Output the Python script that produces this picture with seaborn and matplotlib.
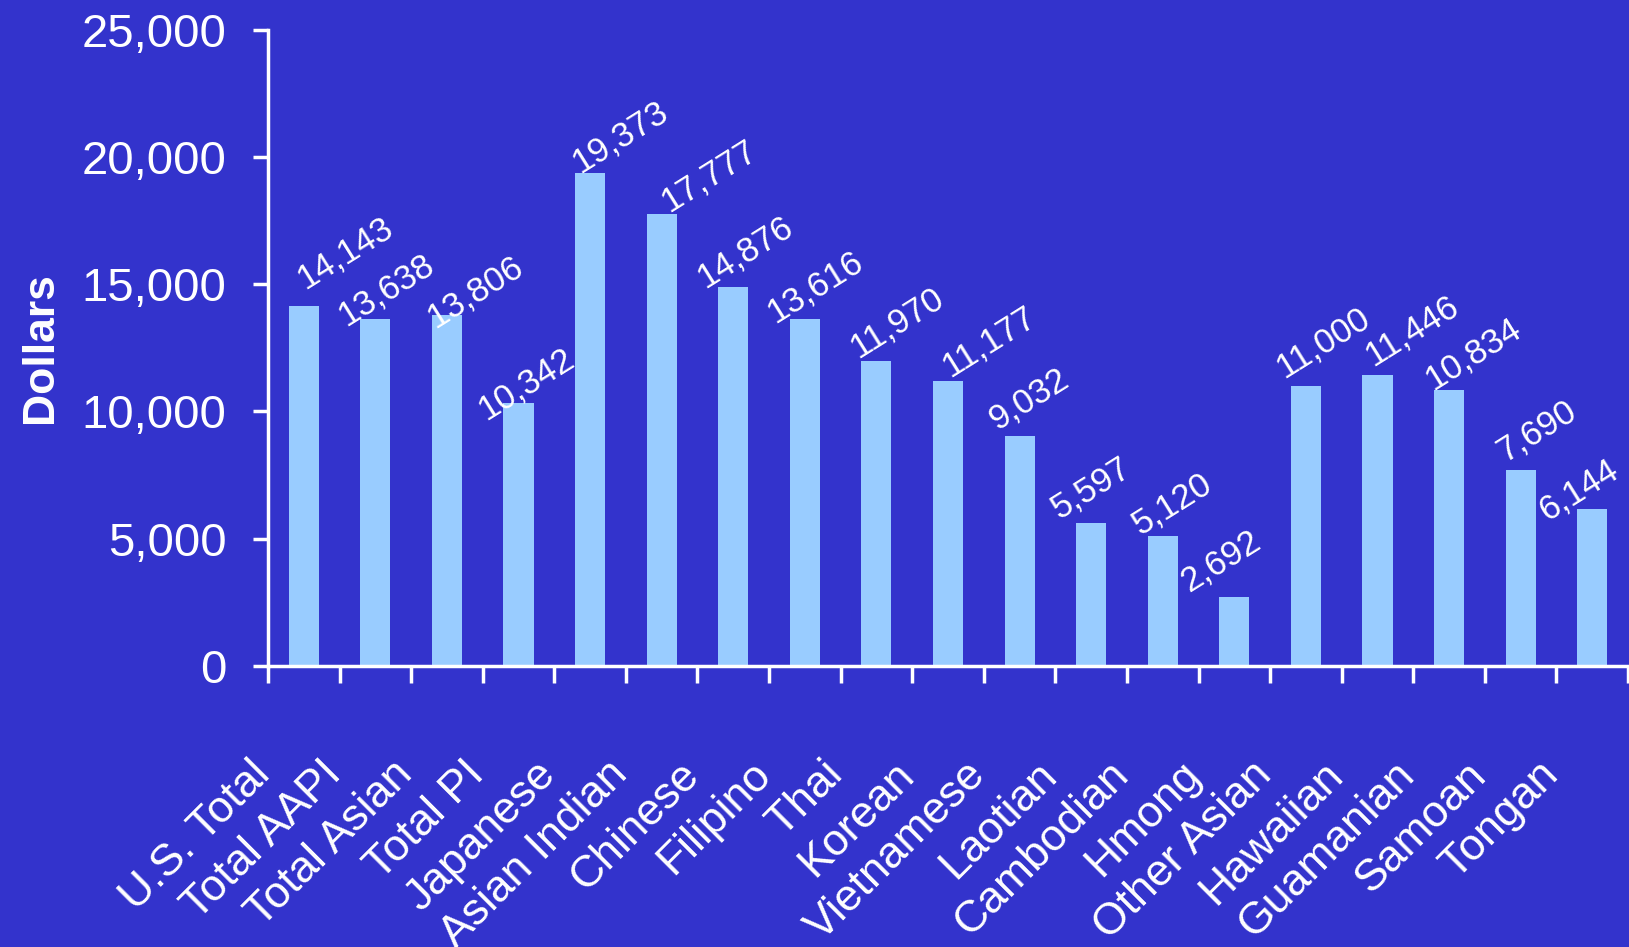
import numpy as np
import pandas as pd
import matplotlib
matplotlib.use("Agg")
import matplotlib.pyplot as plt
import seaborn as sns
from matplotlib.ticker import FuncFormatter, FixedLocator
from matplotlib.transforms import ScaledTranslation

# ---- data ----
categories = ["U.S. Total", "Total AAPI", "Total Asian", "Total PI", "Japanese",
              "Asian Indian", "Chinese", "Filipino", "Thai", "Korean", "Vietnamese",
              "Laotian", "Cambodian", "Hmong", "Other Asian", "Hawaiian",
              "Guamanian", "Samoan", "Tongan"]
values = [14143, 13638, 13806, 10342, 19373, 17777, 14876, 13616, 11970, 11177,
          9032, 5597, 5120, 2692, 11000, 11446, 10834, 7690, 6144]
y_ticks = [0, 5000, 10000, 15000, 20000, 25000]
y_label = "Dollars"

# per-label nudges (pixels: right, down) of value labels relative to bar top centre
label_nudges = [(1, -17), (-29, 7), (-12, 14), (-33, 17), (-10, 0), (7, -1),
                (-28, 1), (-30, 4), (-18, -3), (2, -4), (-23, -6), (-32, -4),
                (-23, 0), (-45, -5), (-22, -8), (-4, -8), (-16, 0), (-16, -8),
                (-45, 12)]

BG = "#3333CC"
BAR = "#99CCFF"
WHITE = "white"

sns.set_theme(style="white")
plt.rcParams["font.family"] = ["Liberation Sans", "DejaVu Sans"]

W, H = 1629, 947
fig = plt.figure(figsize=(W / 100, H / 100), dpi=100, facecolor=BG)
ax = fig.add_axes([268 / W, 1 - 665.7 / H, (1628 - 268) / W, (665.7 - 30) / H])
ax.set_facecolor(BG)

df = pd.DataFrame({"cat": categories, "val": values})
sns.barplot(data=df, x="cat", y="val", color=BAR, saturation=1, width=0.42,
            linewidth=0, edgecolor=BAR, ax=ax)

n = len(categories)
ax.set_xlim(-0.5, n - 0.5)
ax.set_ylim(0, 25000)

for s in ["top", "right"]:
    ax.spines[s].set_visible(False)
for s in ["left", "bottom"]:
    ax.spines[s].set_color(WHITE)
    ax.spines[s].set_linewidth(2.5)

# y axis
ax.yaxis.set_major_locator(FixedLocator(y_ticks))
ax.yaxis.set_major_formatter(FuncFormatter(lambda v, p: f"{int(v):,}"))
ax.tick_params(axis="y", colors=WHITE, labelsize=34, length=11, width=2.5,
               direction="out", pad=19, left=True)
ax.set_ylabel(y_label, color=WHITE, fontsize=32, fontweight="bold")
ax.yaxis.set_label_coords(-0.152, 0.5)

# x axis: tick marks at category boundaries, labels at centres
ax.set_xlabel("")
ax.set_xticks(np.arange(n))
ax.set_xticklabels(categories)
ax.set_xticks(np.arange(n + 1) - 0.5, minor=True)
ax.tick_params(axis="x", which="major", length=0, colors=WHITE, labelsize=32, pad=0)
ax.tick_params(axis="x", which="minor", length=12.2, width=2.5, color=WHITE,
               direction="out", bottom=True)
shift = ScaledTranslation(-55 / 100, -88 / 100, fig.dpi_scale_trans)
for lab in ax.get_xticklabels():
    lab.set_rotation(45)
    lab.set_ha("right")
    lab.set_va("top")
    lab.set_rotation_mode("anchor")
    lab.set_color(WHITE)
    lab.set_transform(lab.get_transform() + shift)

# value labels
for i, (v, (dx, dy)) in enumerate(zip(values, label_nudges)):
    ax.annotate(f"{v:,}", xy=(i, v), xytext=(dx, -dy), textcoords="offset pixels",
                ha="left", va="baseline", rotation=32, rotation_mode="anchor",
                color=WHITE, fontsize=25, annotation_clip=False)

fig.savefig("out.png", dpi=100, facecolor=BG)
